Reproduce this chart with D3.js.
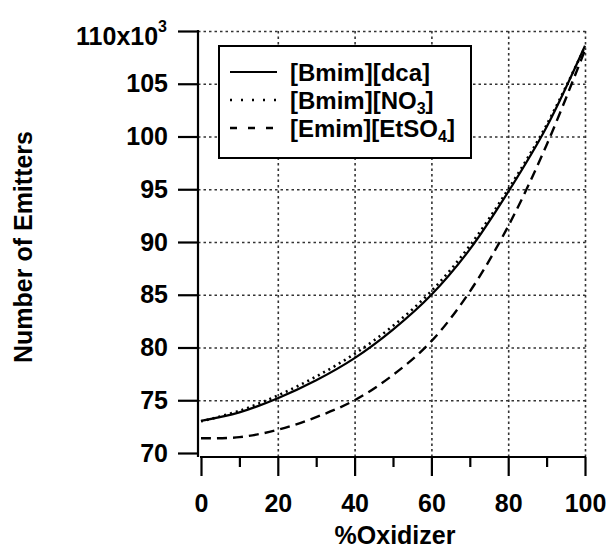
<!DOCTYPE html>
<html>
<head>
<meta charset="utf-8">
<script src="https://cdn.jsdelivr.net/npm/d3@7"></script>
<style>
  body { margin: 0; background: #fff; }
  text { font-family: "Liberation Sans", Arial, sans-serif; font-weight: bold; fill: #000; }
</style>
</head>
<body>
<div id="chart"></div>
<script>
// data
const oxidizer = [0, 10, 20, 30, 40, 50, 60, 70, 80, 90, 100];
const bmimDca = [73.05, 73.85, 75.2, 76.9, 79.0, 81.7, 85.0, 89.3, 94.75, 100.9, 108.6];
const bmimNO3 = [73.0, 74.0, 75.45, 77.25, 79.4, 82.05, 85.35, 89.65, 95.0, 101.1, 108.5];
const emimEtSO4 = [71.4, 71.5, 72.2, 73.4, 75.0, 77.4, 80.6, 85.3, 91.5, 99.2, 108.2];
const xMajor = [0, 20, 40, 60, 80, 100];
const xMinor = [10, 30, 50, 70, 90];
const yTicks = [70, 75, 80, 85, 90, 95, 100, 105, 110];

const W = 609, H = 550;
const plot = { left: 201, right: 585, top: 31, bottom: 453 };
const yAxisX = 198, xAxisY = 457;

const x = d3.scaleLinear().domain([0, 100]).range([plot.left, plot.right]);
const y = d3.scaleLinear().domain([70, 110]).range([plot.bottom, plot.top]);

const svg = d3.select("#chart").append("svg")
  .attr("width", W).attr("height", H);

// grid (dotted)
const gridV = svg.append("g")
  .attr("transform", "translate(0," + xAxisY + ")")
  .call(d3.axisBottom(x).tickValues(xMajor.filter(d => d > 0))
    .tickSize(-(xAxisY - y(110))).tickFormat(""));
const gridH = svg.append("g")
  .attr("transform", "translate(" + yAxisX + ",0)")
  .call(d3.axisLeft(y).tickValues(yTicks.filter(d => d > 70))
    .tickSize(-(x(100) - yAxisX + 1)).tickFormat(""));
[gridV, gridH].forEach(g => {
  g.select(".domain").remove();
  g.selectAll("line")
    .attr("stroke", "#333")
    .attr("stroke-width", 1.6)
    .attr("stroke-dasharray", "2.5,3");
});

// series
const series = [
  { name: "dca", values: bmimDca, dash: null, width: 2.2 },
  { name: "NO3", values: bmimNO3, dash: "2,4", width: 2.6 },
  { name: "EtSO4", values: emimEtSO4, dash: "10,6", width: 2.4 }
];
const line = d3.line()
  .x((d, i) => x(oxidizer[i]))
  .y(d => y(d))
  .curve(d3.curveCatmullRom.alpha(0.5));
series.forEach(s => {
  svg.append("path")
    .attr("d", line(s.values))
    .attr("fill", "none")
    .attr("stroke", "#000")
    .attr("stroke-width", s.width)
    .attr("stroke-dasharray", s.dash);
});

// y axis
const yAxis = svg.append("g")
  .attr("transform", "translate(" + yAxisX + ",0)")
  .call(d3.axisLeft(y).tickValues(yTicks).tickSize(20).tickSizeOuter(0).tickPadding(10)
    .tickFormat(d => d === 110 ? "" : d));
yAxis.select(".domain").attr("d", "M0," + (y(110) - 1) + "V" + xAxisY);
yAxis.selectAll("line, path").attr("stroke", "#000").attr("stroke-width", 2.2);
yAxis.selectAll("text").attr("font-size", 25).attr("font-family", null).attr("fill", "#000");
// top label with exponent
const topLbl = svg.append("text")
  .attr("x", yAxisX - 31).attr("y", y(110) + 14)
  .attr("text-anchor", "end").attr("font-size", 25);
topLbl.append("tspan").text("110x10");
topLbl.append("tspan").attr("font-size", 16).attr("dy", -13).text("3");

// x axis
const xAxis = svg.append("g")
  .attr("transform", "translate(0," + xAxisY + ")")
  .call(d3.axisBottom(x).tickValues(xMajor).tickSize(19).tickSizeOuter(0).tickPadding(18));
xAxis.select(".domain").attr("d", "M" + (plot.left - 1) + ",0H" + (x(100) + 1));
xAxis.selectAll("line, path").attr("stroke", "#000").attr("stroke-width", 2.2);
xAxis.selectAll("text").attr("font-size", 25).attr("font-family", null).attr("fill", "#000");
const xMin = svg.append("g")
  .attr("transform", "translate(0," + xAxisY + ")")
  .call(d3.axisBottom(x).tickValues(xMinor).tickSize(10).tickFormat(""));
xMin.select(".domain").remove();
xMin.selectAll("line").attr("stroke", "#000").attr("stroke-width", 2.2);

// axis titles
svg.append("text")
  .attr("x", 395).attr("y", 544)
  .attr("text-anchor", "middle").attr("font-size", 25)
  .text("%Oxidizer");
svg.append("text")
  .attr("transform", "translate(32,247) rotate(-90)")
  .attr("text-anchor", "middle").attr("font-size", 25)
  .text("Number of Emitters");

// legend
const legend = svg.append("g");
legend.append("rect")
  .attr("x", 219).attr("y", 46).attr("width", 252).attr("height", 112)
  .attr("fill", "#fff").attr("stroke", "#000").attr("stroke-width", 2);
const legendItems = [
  { main: "[Bmim][dca]", sub: null, tail: "", dash: null, width: 2.2 },
  { main: "[Bmim][NO", sub: "3", tail: "]", dash: "2,9", width: 2.6 },
  { main: "[Emim][EtSO", sub: "4", tail: "]", dash: "7,11", width: 2.4 }
];
const rowY = [72, 100, 128];
legendItems.forEach((it, i) => {
  legend.append("line")
    .attr("x1", 230).attr("x2", 277)
    .attr("y1", rowY[i]).attr("y2", rowY[i])
    .attr("stroke", "#000").attr("stroke-width", it.width)
    .attr("stroke-dasharray", it.dash);
  const t = legend.append("text")
    .attr("x", 290).attr("y", rowY[i] + 9).attr("font-size", 24);
  t.append("tspan").text(it.main);
  if (it.sub) {
    t.append("tspan").attr("font-size", 16).attr("dy", 5).text(it.sub);
    t.append("tspan").attr("dy", -5).text(it.tail);
  }
});
</script>
</body>
</html>
